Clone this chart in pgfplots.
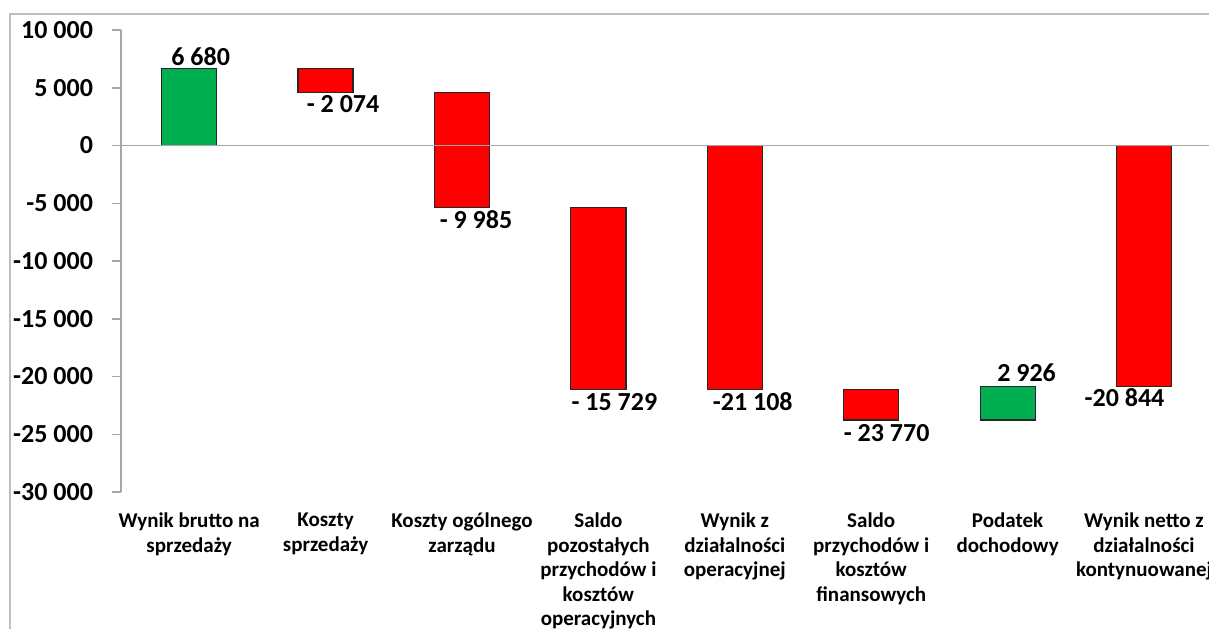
\documentclass[border=0pt]{standalone}
\usepackage{fontspec}
\setmainfont{Carlito}
\usepackage{pgfplots}
\usepackage{pgfplotstable}
\pgfplotsset{compat=1.18}

\definecolor{barred}{HTML}{FF0000}
\definecolor{bargreen}{HTML}{00B050}
\definecolor{axgray}{HTML}{A6A6A6}
\definecolor{framegray}{HTML}{BFBFBF}

% waterfall: invisible base + green rise + red fall
\pgfplotstableread{
x base up down
0 0 6680 0
1 6680 0 -2074
2 4606 0 -9985
3 -5379 0 -15729
4 0 0 -21108
5 -21108 0 -2662
6 -23770 2926 0
7 0 0 -20844
}\wf

\begin{document}
\begin{tikzpicture}
\begin{axis}[
    at={(0,0)}, anchor=south west,
    scale only axis, width=545.6pt, height=231pt,
    xmin=-0.5, xmax=7.5, ymin=-30000, ymax=10000,
    enlargelimits=false, clip=false,
    ybar stacked, stack negative=on previous, bar width=27.5pt,
    axis y line*=left, axis x line*=bottom,
    x axis line style={draw=none},
    y axis line style={draw=axgray, line width=0.75pt},
    xtick={0,...,7}, xtick style={draw=none},
    xticklabels={{Wynik brutto na\\sprzedaży},{Koszty\\sprzedaży},{Koszty ogólnego\\zarządu},{Saldo\\pozostałych\\przychodów i\\kosztów\\operacyjnych},{Wynik z\\działalności\\operacyjnej},{Saldo\\przychodów i\\kosztów\\finansowych},{Podatek\\dochodowy},{Wynik netto z\\działalności\\kontynuowanej}},
    xticklabel style={font=\fontsize{10.5}{12.2}\selectfont\bfseries, align=center, anchor=north, yshift=-2.5pt},
    scaled y ticks=false,
    ytick={-30000,-25000,...,10000},
    yticklabels={-30 000,-25 000,-20 000,-15 000,-10 000,-5 000,0,5 000,10 000},
    yticklabel style={font=\fontsize{13}{15}\selectfont\bfseries, xshift=-6pt},
    ytick style={draw=axgray, line width=0.75pt},
    tick align=outside, major tick length=4.5pt,
]
\draw[axgray, line width=0.75pt] (axis cs:-0.5,0) -- (axis cs:7.5,0);
\addplot[draw=none, fill=none] table[x=x, y=base] {\wf};
\addplot[fill=bargreen, draw=black!85, line width=0.6pt] table[x=x, y=up] {\wf};
\addplot[fill=barred, draw=black!85, line width=0.6pt] table[x=x, y=down] {\wf};

\tikzset{lbl/.style={font=\fontsize{13}{15}\selectfont\bfseries, anchor=base, inner sep=0pt}}
\node[lbl, xshift=5.75pt, yshift=1.5pt] at (axis cs:0,6680) {6 680};
\node[lbl, xshift=8.75pt, yshift=-10pt] at (axis cs:1,4606) {- 2 074};
\node[lbl, xshift=7pt, yshift=-10.5pt] at (axis cs:2,-5379) {- 9 985};
\node[lbl, xshift=8pt, yshift=-10.5pt] at (axis cs:3,-21108) {- 15 729};
\node[lbl, xshift=9pt, yshift=-10.5pt] at (axis cs:4,-21108) {-21 108};
\node[lbl, xshift=7.75pt, yshift=-10.5pt] at (axis cs:5,-23770) {- 23 770};
\node[lbl, xshift=9.5pt, yshift=2.5pt] at (axis cs:6,-20844) {2 926};
\node[lbl, xshift=-9.75pt, yshift=-10pt] at (axis cs:7,-20844) {-20 844};
\end{axis}
\draw[framegray, line width=0.75pt] (-55.5pt,-70pt) -- (-55.5pt,239pt) -- (546pt,239pt);
\pgfresetboundingbox
\path[use as bounding box] (-60.5pt,-68pt) rectangle (544pt,246pt);
\end{tikzpicture}
\end{document}
